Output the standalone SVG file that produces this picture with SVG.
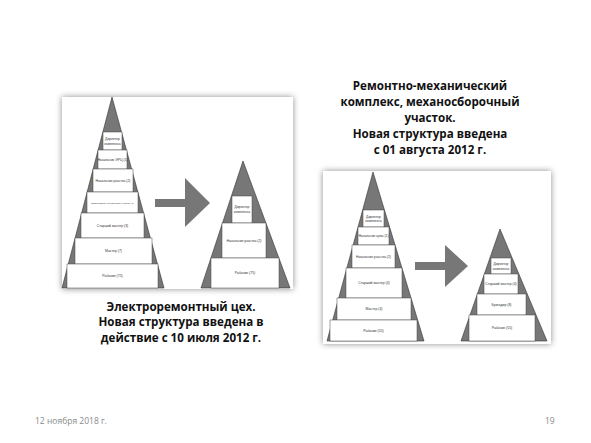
<svg xmlns="http://www.w3.org/2000/svg" width="591" height="443" viewBox="0 0 591 443">
<defs>
<filter id="sh" x="-10%" y="-10%" width="120%" height="120%">
<feGaussianBlur in="SourceAlpha" stdDeviation="3"/>
<feOffset dx="0" dy="0" result="b"/>
<feFlood flood-color="#000" flood-opacity="0.45"/>
<feComposite in2="b" operator="in"/>
<feMerge><feMergeNode/><feMergeNode in="SourceGraphic"/></feMerge>
</filter>
</defs>
<style>
.panel{fill:#fff;filter:url(#sh)}
.tri{fill:#777;stroke:#333;stroke-width:0.6}
.tier{fill:#fff;stroke:#444;stroke-width:0.5}
.tl{font-family:"Liberation Sans",Arial,sans-serif;font-size:3.4px;fill:#333;text-anchor:middle}
.arr{fill:#777}
.title{font-family:"Open Sans","Liberation Sans",sans-serif;font-weight:bold;font-size:11.6px;fill:#111;text-anchor:middle}
.foot{font-family:"Open Sans","Liberation Sans",sans-serif;font-size:8.5px;fill:#8a8a8a}
</style>
<rect width="591" height="443" fill="#fff"/>

<g id="panel-left">
<rect class="panel" x="62" y="97" width="231" height="192"/>
</g>
<g id="panel-right">
<rect class="panel" x="323" y="171" width="228" height="173"/>
</g>

<g id="pyr-L1">
<polygon class="tri" points="112,97 62,288 164,288"/>
<g id="L1-t1"><rect class="tier" x="103" y="132" width="19" height="18"/><text class="tl" x="112.5" y="140">Директор</text><text class="tl" x="112.5" y="144.5">комплекса</text></g>
<g id="L1-t2"><rect class="tier" x="98" y="150" width="29" height="19"/><text class="tl" x="112.5" y="160.5">Начальник ЭРЦ (1)</text></g>
<g id="L1-t3"><rect class="tier" x="93" y="169" width="40" height="23"/><text class="tl" x="113" y="181.5">Начальник участка (2)</text></g>
<g id="L1-t4"><rect class="tier" x="87" y="192" width="51" height="21"/><text class="tl" x="112.5" y="203.5" style="font-size:2.5px">Заместитель начальника участка (1)</text></g>
<g id="L1-t5"><rect class="tier" x="81" y="213" width="63" height="25"/><text class="tl" x="112.5" y="226.5">Старший мастер (3)</text></g>
<g id="L1-t6"><rect class="tier" x="75" y="238" width="77" height="26"/><text class="tl" x="113.5" y="252">Мастер (7)</text></g>
<g id="L1-t7"><rect class="tier" x="67" y="264" width="91" height="24"/><text class="tl" x="112.5" y="277">Рабочие (75)</text></g>
</g>

<g id="pyr-L2">
<polygon class="tri" points="243,161 201,288 290,288"/>
<g id="L2-t1"><rect class="tier" x="232" y="196" width="20" height="27"/><text class="tl" x="242" y="208">Директор</text><text class="tl" x="242" y="212.5">комплекса</text></g>
<g id="L2-t2"><rect class="tier" x="222" y="223" width="44" height="35"/><text class="tl" x="244" y="241.5">Начальник участка (2)</text></g>
<g id="L2-t3"><rect class="tier" x="211" y="258" width="68" height="30"/><text class="tl" x="245" y="274">Рабочие (75)</text></g>
</g>

<g id="pyr-R1">
<polygon class="tri" points="373,172 327,341 424,341"/>
<g id="R1-t1"><rect class="tier" x="363" y="210" width="21" height="17"/><text class="tl" x="373.5" y="217.5">Директор</text><text class="tl" x="373.5" y="222">комплекса</text></g>
<g id="R1-t2"><rect class="tier" x="358" y="227" width="31" height="18"/><text class="tl" x="373.5" y="237">Начальник цеха (1)</text></g>
<g id="R1-t3"><rect class="tier" x="352" y="245" width="43" height="23"/><text class="tl" x="373.5" y="257.5">Начальник участка (2)</text></g>
<g id="R1-t4"><rect class="tier" x="346" y="268" width="56" height="30"/><text class="tl" x="374" y="284">Старший мастер (4)</text></g>
<g id="R1-t5"><rect class="tier" x="337" y="298" width="74" height="22"/><text class="tl" x="374" y="310">Мастер (4)</text></g>
<g id="R1-t6"><rect class="tier" x="330" y="320" width="87" height="21"/><text class="tl" x="373.5" y="331.5">Рабочие (55)</text></g>
</g>

<g id="pyr-R2">
<polygon class="tri" points="500,229 461,341 547,341"/>
<g id="R2-t1"><rect class="tier" x="491" y="258" width="20" height="16"/><text class="tl" x="501" y="265">Директор</text><text class="tl" x="501" y="269.5">комплекса</text></g>
<g id="R2-t2"><rect class="tier" x="484" y="274" width="34" height="20"/><text class="tl" x="501" y="285">Старший мастер (4)</text></g>
<g id="R2-t3"><rect class="tier" x="477" y="294" width="49" height="21"/><text class="tl" x="501.5" y="305.5">Бригадир (8)</text></g>
<g id="R2-t4"><rect class="tier" x="469" y="315" width="66" height="26"/><text class="tl" x="502" y="329">Рабочие (55)</text></g>
</g>

<g id="connectors">
<polygon class="arr" points="155,199 185,199 185,178 210,203 185,227 185,207 155,207"/>
<polygon class="arr" points="415,262 445,262 445,245 468,266 445,287 445,270 415,270"/>
</g>

<g id="title-right">
<text class="title" x="430" y="90">Ремонтно-механический</text>
<text class="title" x="430" y="106">комплекс, механосборочный</text>
<text class="title" x="430" y="122">участок.</text>
<text class="title" x="430" y="138">Новая структура введена</text>
<text class="title" x="430" y="154">с 01 августа 2012 г.</text>
</g>
<g id="title-left">
<text class="title" x="181" y="310.5">Электроремонтный цех.</text>
<text class="title" x="181" y="326.3">Новая структура введена в</text>
<text class="title" x="181" y="342.1">действие с 10 июля 2012 г.</text>
</g>
<g id="footer">
<text class="foot" x="35" y="424">12 ноября 2018 г.</text>
<text class="foot" x="545" y="424">19</text>
</g>
</svg>
